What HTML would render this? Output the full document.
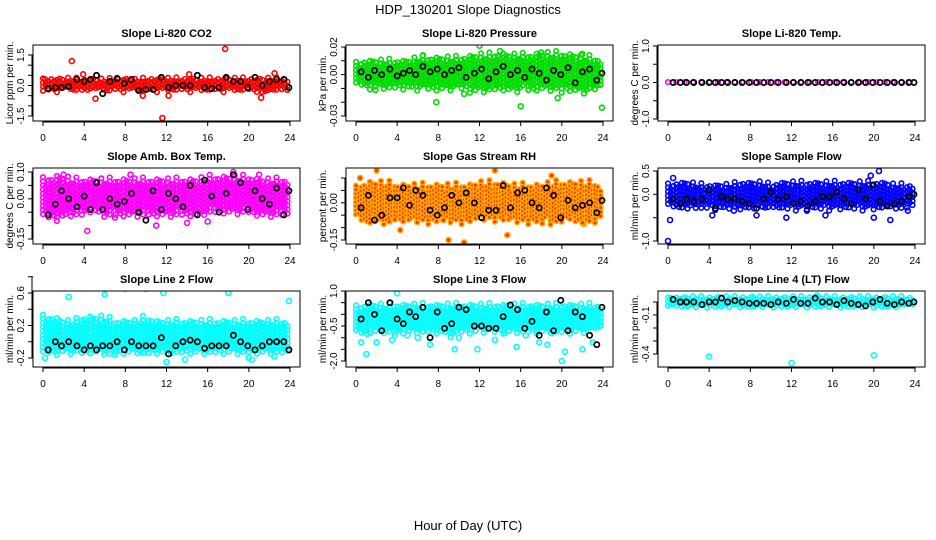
<!DOCTYPE html>
<html><head><meta charset="utf-8"><style>
html,body{margin:0;padding:0;background:#fff;}
svg{display:block;font-family:"Liberation Sans",sans-serif;}
</style></head><body>
<svg id="chart" width="936" height="540" viewBox="0 0 936 540">
<text x="468" y="14" text-anchor="middle" font-size="13">HDP_130201  Slope Diagnostics</text>
<text x="468" y="530" text-anchor="middle" font-size="13">Hour of Day (UTC)</text>
</svg>
<script>
const xTicks = [0,4,8,12,16,20,24];
const blackHours = [0.5,1.2,1.8,2.5,3.3,4.0,4.6,5.2,5.8,6.5,7.2,7.9,8.6,9.3,10.0,10.7,11.5,12.2,12.9,13.6,14.3,15.0,15.7,16.4,17.1,17.8,18.5,19.2,19.9,20.6,21.3,22.0,22.7,23.4,23.9];
const titles = ["Slope Li-820 CO2","Slope Li-820 Pressure","Slope Li-820 Temp.","Slope Amb. Box Temp.","Slope Gas Stream RH","Slope Sample Flow","Slope Line 2 Flow","Slope Line 3 Flow","Slope Line 4 (LT) Flow"];
const yTitles = ["Licor ppm per min.","kPa per min.","degrees C per min.","degrees C per min.","percent per min.","ml/min per min.","ml/min per min.","ml/min per min.","ml/min per min."];
const colors = ["#ff0000","#00dd00","#ff00ff","#ff00ff","#ffaa00","#0000ff","#00ffff","#00ffff","#00ffff"];
const yTicks = [[-1.5,-1,-0.5,0,0.5,1,1.5],[-0.03,-0.02,-0.01,0,0.01,0.02],[-1,-0.5,0,0.5,1],[-0.15,-0.1,-0.05,0,0.05,0.1],[-0.15,-0.1,-0.05,0,0.05,0.1],[-1,-0.5,0,0.5],[-0.2,0,0.2,0.4,0.6,0.8],[-2,-1.5,-1,-0.5,0,0.5,1],[-0.4,-0.3,-0.2,-0.1,0]];
const yLabels = [["-1.5","0.0","1.5"],["-0.03","0.00","0.02"],["-1.0","0.0","1.0"],["-0.15","0.00","0.10"],["-0.15","0.00"],["-1.0","0.0","0.5"],["-0.2","0.2","0.6"],["-2.0","-0.5","1.0"],["-0.4","-0.1"]];
const yDomain = [[-1.5,1.5],[-0.03,0.02],[-1,1],[-0.15,0.1],[-0.15,0.1],[-1,0.5],[-0.2,0.6],[-2,1],[-0.4,0]];
const bandLo = [
[-0.3,-0.3,-0.25,-0.3,-0.3,-0.3,-0.25,-0.3,-0.3,-0.3,-0.3,-0.3,-0.3,-0.3,-0.3,-0.3,-0.3,-0.3,-0.3,-0.3,-0.3,-0.35,-0.3,-0.3,-0.3],
[-0.008,-0.01,-0.01,-0.01,-0.01,-0.01,-0.01,-0.01,-0.012,-0.01,-0.01,-0.012,-0.012,-0.012,-0.012,-0.012,-0.01,-0.012,-0.012,-0.012,-0.012,-0.012,-0.012,-0.012,-0.01],
[-0.01,-0.01,-0.01,-0.01,-0.01,-0.01,-0.01,-0.01,-0.01,-0.01,-0.01,-0.01,-0.01,-0.01,-0.01,-0.01,-0.01,-0.01,-0.01,-0.01,-0.01,-0.01,-0.01,-0.01,-0.01],
[-0.07,-0.08,-0.07,-0.06,-0.06,-0.05,-0.06,-0.06,-0.06,-0.06,-0.06,-0.06,-0.06,-0.06,-0.06,-0.06,-0.05,-0.05,-0.05,-0.05,-0.05,-0.06,-0.06,-0.06,-0.06],
[-0.06,-0.08,-0.08,-0.08,-0.07,-0.08,-0.08,-0.08,-0.08,-0.08,-0.08,-0.08,-0.07,-0.07,-0.07,-0.07,-0.08,-0.08,-0.08,-0.08,-0.07,-0.07,-0.08,-0.08,-0.06],
[-0.25,-0.3,-0.3,-0.3,-0.3,-0.3,-0.3,-0.3,-0.3,-0.3,-0.3,-0.3,-0.3,-0.3,-0.3,-0.3,-0.3,-0.3,-0.3,-0.3,-0.3,-0.3,-0.3,-0.3,-0.3],
[-0.15,-0.15,-0.15,-0.15,-0.15,-0.15,-0.15,-0.15,-0.15,-0.15,-0.15,-0.15,-0.15,-0.15,-0.15,-0.15,-0.15,-0.15,-0.15,-0.15,-0.15,-0.15,-0.15,-0.15,-0.15],
[-0.8,-0.9,-0.8,-0.8,-0.9,-0.8,-0.8,-0.8,-0.8,-0.9,-0.8,-0.8,-0.7,-0.7,-0.8,-0.8,-0.8,-0.7,-0.8,-0.8,-0.7,-0.8,-0.8,-0.7,-0.6],
[-0.03,-0.04,-0.04,-0.04,-0.04,-0.04,-0.04,-0.04,-0.04,-0.04,-0.04,-0.04,-0.04,-0.04,-0.04,-0.04,-0.04,-0.04,-0.04,-0.04,-0.04,-0.04,-0.04,-0.04,-0.03]];
const bandHi = [
[0.3,0.35,0.35,0.35,0.3,0.35,0.3,0.35,0.35,0.3,0.35,0.35,0.35,0.35,0.35,0.35,0.35,0.35,0.35,0.35,0.35,0.35,0.35,0.35,0.3],
[0.008,0.01,0.01,0.01,0.01,0.01,0.012,0.012,0.012,0.012,0.012,0.013,0.014,0.014,0.015,0.014,0.014,0.014,0.015,0.015,0.015,0.014,0.013,0.012,0.01],
[0.01,0.01,0.01,0.01,0.01,0.01,0.01,0.01,0.01,0.01,0.01,0.01,0.01,0.01,0.01,0.01,0.01,0.01,0.01,0.01,0.01,0.01,0.01,0.01,0.01],
[0.07,0.08,0.08,0.07,0.07,0.07,0.07,0.07,0.07,0.07,0.07,0.07,0.07,0.07,0.07,0.07,0.08,0.08,0.08,0.08,0.08,0.07,0.07,0.07,0.07],
[0.06,0.08,0.08,0.08,0.07,0.07,0.07,0.07,0.07,0.07,0.07,0.07,0.08,0.08,0.08,0.07,0.07,0.07,0.07,0.08,0.08,0.08,0.08,0.08,0.06],
[0.2,0.25,0.25,0.2,0.2,0.2,0.2,0.25,0.25,0.25,0.2,0.25,0.25,0.25,0.25,0.25,0.25,0.25,0.25,0.25,0.25,0.25,0.2,0.2,0.2],
[0.3,0.3,0.25,0.25,0.3,0.3,0.3,0.25,0.25,0.25,0.3,0.25,0.25,0.25,0.25,0.25,0.25,0.25,0.25,0.25,0.25,0.25,0.25,0.25,0.25],
[0.3,0.4,0.4,0.4,0.4,0.4,0.4,0.4,0.4,0.4,0.4,0.4,0.4,0.4,0.4,0.4,0.4,0.4,0.4,0.4,0.4,0.4,0.4,0.4,0.35],
[0.03,0.04,0.04,0.04,0.04,0.04,0.04,0.04,0.04,0.04,0.04,0.04,0.04,0.04,0.04,0.04,0.04,0.04,0.04,0.04,0.04,0.04,0.04,0.04,0.03]];
const outlierHours = [
[2.8,17.7,11.6,5.1,3.9,22.5,21.2,12.2,9.7,14.2,0.2],
[7.8,12,16,23.9,19.6,1.9,6.5,18,10.5,14,22],
[],
[4.3,11,18.5,7,2,14,21,8.5,16],
[4.3,9,10.5,13.5,14.7,2,0.4,8.5,19,22],
[0,0.2,4.3,8.6,11.5,20,21.6,0.5,20.5,19.7,15.3,6.4,23.3,13.5],
[1.2,4,8,10,15.8,18,19.8,12,13.8,20,0.2,2.5,6,11.7,23.9,20.3,7,22.5],
[4,20,20.3,0.5,1,2,9.6,11.8,15.6,17.8,18.6,22,7.2,3.5,13.5,5,23,16.5,10,6,19,14.5],
[4,12,20,14.5,0.3,8.2]];
const outlierValues = [
[1.2,1.8,-1.6,-0.65,0.55,0.6,-0.6,-0.5,-0.5,0.55,0.3],
[-0.02,0.021,-0.023,-0.024,-0.017,-0.011,0.014,0.016,-0.014,0.017,0.015],
[],
[-0.12,-0.1,0.1,-0.07,0.09,-0.09,0.09,0.09,-0.085],
[-0.11,-0.15,-0.16,0.13,-0.13,0.13,0.1,-0.07,0.11,-0.08],
[-1.0,-0.55,-0.45,-0.45,-0.5,-0.5,-0.55,0.35,0.5,0.4,-0.45,-0.35,-0.35,-0.35],
[0.75,0.82,0.65,0.65,0.68,0.6,0.78,-0.25,-0.22,-0.2,-0.2,0.55,0.58,0.6,0.5,-0.22,-0.16,-0.18],
[0.9,-2.0,-1.6,-1.2,-1.7,-1.2,-1.5,-1.5,-1.4,-1.2,-1.3,-1.5,-1.3,-1.1,-1.1,-0.9,-1.2,-0.9,-1.0,-1.0,-0.8,-0.8],
[-0.42,-0.47,-0.41,0.05,0.03,0.04]];
const blackValues = [
[-0.15,-0.1,-0.1,-0.05,0.3,0.2,0.3,0.5,-0.4,0.2,0.35,0.1,0.3,-0.25,-0.2,-0.2,0.4,-0.1,0.0,0.0,0.0,0.5,-0.1,-0.15,-0.1,0.4,0.2,0.2,-0.1,0.4,0.0,0.2,0.3,0.3,-0.1],
[0.002,-0.002,0.003,0.0,0.004,-0.001,0.001,0.003,0.0,0.006,0.002,0.004,0.0,0.003,0.005,-0.002,0.001,0.004,-0.003,0.002,0.006,0.0,0.003,-0.002,0.004,0.001,-0.004,0.003,0.0,0.005,-0.006,0.002,0.004,-0.004,0.001],
[0,0,0,0,0,0,0,0,0,0,0,0,0,0,0,0,0,0,0,0,0,0,0,0,0,0,0,0,0,0,0,0,0,0,0],
[-0.06,-0.02,0.03,0.0,-0.03,0.01,-0.04,0.06,-0.04,0.0,-0.02,-0.01,0.02,-0.05,-0.08,0.03,-0.04,0.02,0.0,-0.03,0.05,-0.06,0.07,0.01,-0.05,0.02,0.09,0.06,-0.04,0.03,0.0,-0.02,0.04,-0.06,0.03],
[-0.02,0.03,-0.07,-0.05,0.02,0.02,0.06,-0.01,0.05,0.03,-0.03,-0.05,-0.02,0.03,0.0,0.04,0.0,-0.06,-0.03,-0.03,0.07,-0.02,0.04,0.05,0.0,-0.02,0.06,0.03,-0.06,0.01,-0.02,-0.01,0.0,-0.04,0.01],
[-0.1,-0.2,-0.1,-0.15,-0.1,0.1,-0.3,-0.05,-0.1,-0.1,-0.15,-0.2,-0.3,-0.1,0.05,-0.1,-0.05,-0.2,-0.15,-0.25,-0.15,-0.05,-0.05,0.05,-0.1,-0.2,0.1,-0.1,0.2,-0.15,-0.25,-0.2,-0.15,-0.05,0.0],
[-0.1,0.0,-0.05,0.0,-0.05,-0.1,-0.05,-0.1,-0.05,-0.05,0.0,-0.1,0.0,-0.05,-0.05,-0.05,0.05,-0.15,-0.05,0.0,0.02,0.0,-0.08,-0.05,-0.05,-0.05,0.08,0.0,-0.05,-0.1,-0.05,0.0,0.0,0.0,-0.1],
[-0.2,0.5,0.0,-0.7,0.5,-0.2,-0.4,0.1,-0.1,0.3,-1.0,0.1,-0.6,-0.4,0.3,0.2,-0.5,-0.5,-0.6,-0.6,-0.1,0.4,0.2,-0.6,-0.3,-0.9,0.1,-0.7,0.6,-0.7,0.1,-0.1,-0.9,-1.3,0.3],
[0.02,0.0,0.0,0.0,-0.02,0.0,0.0,0.03,0.0,0.01,0.0,-0.01,-0.01,-0.01,-0.02,0.0,-0.01,0.02,-0.01,-0.01,0.03,0.0,0.0,-0.02,0.01,-0.01,-0.02,-0.03,0.0,0.02,-0.01,-0.02,0.0,-0.01,0.0]];
const yPix = [[116,55],[116,47],[119,46],[239,172],[240,178],[241,171],[358,293],[361,291],[354,302]];

const NS = "http://www.w3.org/2000/svg";
const svg = document.getElementById("chart");
function mk(tag, attrs, parent){const e=document.createElementNS(NS,tag);for(const k in attrs)e.setAttribute(k,attrs[k]);(parent||svg).appendChild(e);return e;}
const colX0 = [43,356,668];
const pxPerHr = (290-43)/24;
const boxTop = [45,168,291], boxBot=[121,244,367];
const ragged = [1,0.75,1.1,0.85,0.95,1.15,0.7,1.05,0.9,0.8,1.2,0.95];

for (let p=0;p<9;p++){
  const col=p%3,row=Math.floor(p/3);
  const g=mk("g",{});
  
  
  const xS=h=>colX0[col]+h*pxPerHr;
  const [v0,v1]=yDomain[p],[p0,p1]=yPix[p];
  const yS=v=>p0+(v-v0)*(p1-p0)/(v1-v0);
  const bx0=colX0[col]-10, bx1=colX0[col]+257;
  const clip=mk("clipPath",{id:"c"+p},g);
  mk("rect",{x:bx0,y:boxTop[row],width:bx1-bx0,height:boxBot[row]-boxTop[row]},clip);
  const pts=mk("g",{"clip-path":"url(#c"+p+")"},g);
  
  
  const col_=colors[p];
  const fillC = p===4?"#ff3300":"none";
  let k=0;
  for(let h=0;h<=24;h+=0.27){
    const i=Math.min(23,Math.floor(h)),f=h-i;
    const lo=bandLo[p][i]*(1-f)+bandLo[p][i+1]*f, hi=bandHi[p][i]*(1-f)+bandHi[p][i+1]*f;
    const mid=(lo+hi)/2, r1=ragged[k%12], r2=ragged[(k+5)%12];
    const ylo=yS(mid-(mid-lo)*r1), yhi=yS(mid+(hi-mid)*r2);
    const off=(k%3)*1.4; k++;
    for(let y=Math.min(ylo,yhi)+off;y<=Math.max(ylo,yhi);y+=4.1){
      mk("circle",{cx:xS(h),cy:y,r:2.3,fill:fillC,stroke:col_,"stroke-width":1.6},pts);
    }
  }
  outlierHours[p].forEach((h,i)=>{
    const c=mk("circle",{cx:xS(h),cy:yS(outlierValues[p][i]),r:2.5,fill:fillC,stroke:col_,"stroke-width":1.6},pts);
    
    
  });
  blackHours.forEach((h,i)=>{
    const c=mk("circle",{cx:xS(h),cy:yS(blackValues[p][i]),r:2.6,fill:"none",stroke:"#000","stroke-width":1.7},pts);
    
    
  });
  mk("rect",{x:bx0,y:boxTop[row],width:bx1-bx0,height:boxBot[row]-boxTop[row],fill:"none",stroke:"#000","stroke-width":1},g);
  const yb=boxBot[row];
  mk("line",{x1:xS(0),x2:xS(24),y1:yb+1,y2:yb+1,stroke:"#000"},g);
  xTicks.forEach(t=>{
    mk("line",{x1:xS(t),x2:xS(t),y1:yb,y2:yb+5,stroke:"#000"},g);
    const tx=mk("text",{x:xS(t),y:yb+20,"text-anchor":"middle","font-size":10},g);
    tx.textContent=t;
    
    
  });
  const yt=yTicks[p];
  mk("line",{x1:bx0-1,x2:bx0-1,y1:yS(yt[0]),y2:yS(yt[yt.length-1]),stroke:"#000"},g);
  yt.forEach(t=>{mk("line",{x1:bx0-5,x2:bx0,y1:yS(t),y2:yS(t),stroke:"#000"},g);});
  yLabels[p].forEach(l=>{
    const v=parseFloat(l),y=yS(v);
    const tx=mk("text",{x:bx0-9,y:y,"text-anchor":"middle","font-size":10,transform:`rotate(-90 ${bx0-9} ${y})`},g);
    tx.textContent=l;
    
    
  });
  const ym=(boxTop[row]+boxBot[row])/2;
  const yt2=mk("text",{x:bx0-20,y:ym,"text-anchor":"middle","font-size":10,transform:`rotate(-90 ${bx0-20} ${ym})`},g);
  yt2.textContent=yTitles[p];
  
  
  const tt=mk("text",{x:(bx0+bx1)/2,y:boxTop[row]-8,"text-anchor":"middle","font-size":11,"font-weight":"bold"},g);
  tt.textContent=titles[p];
  
  
}
</script>
</body></html>
